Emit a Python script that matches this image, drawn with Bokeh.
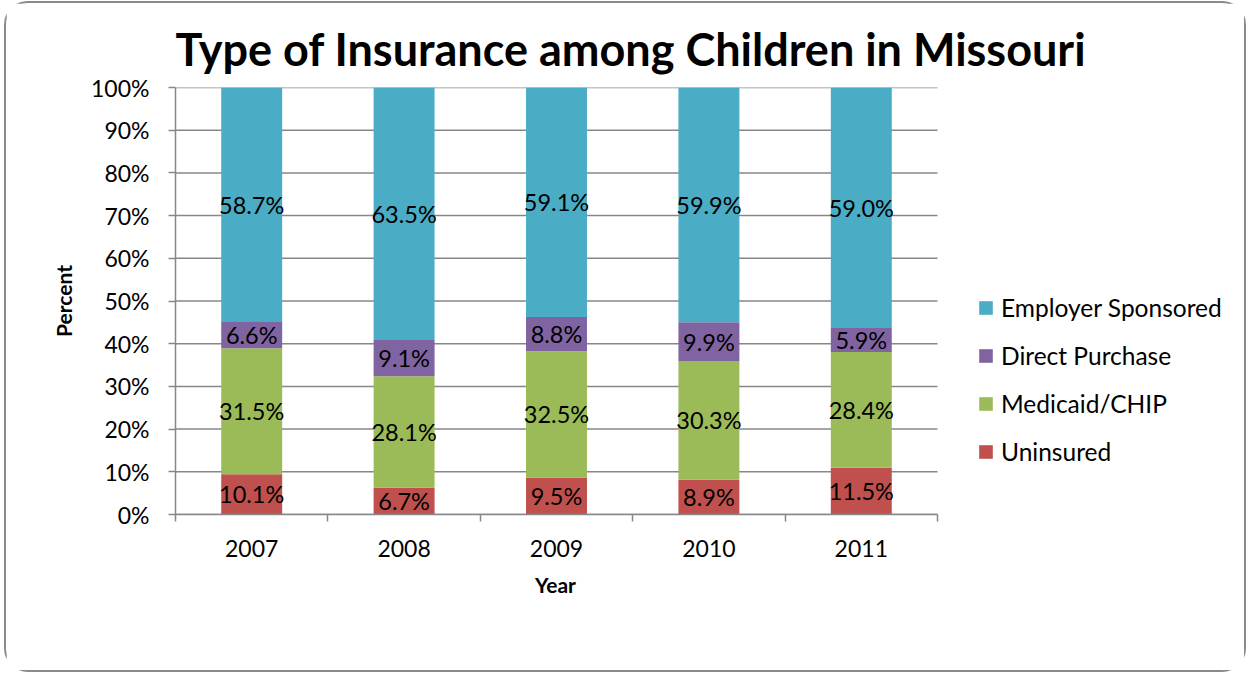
from bokeh.plotting import figure
from bokeh.models import (ColumnDataSource, FixedTicker, Legend, LegendItem,
                          LabelSet, PrintfTickFormatter, Range1d, Title)
from bokeh.core.properties import value
from bokeh.embed import file_html
from bokeh.resources import INLINE

# ---- data ----
years = ["2007", "2008", "2009", "2010", "2011"]
uninsured = [10.1, 6.7, 9.5, 8.9, 11.5]
medicaid = [31.5, 28.1, 32.5, 30.3, 28.4]
direct = [6.6, 9.1, 8.8, 9.9, 5.9]
employer = [58.7, 63.5, 59.1, 59.9, 59.0]
series_names = ["Uninsured", "Medicaid/CHIP", "Direct Purchase", "Employer Sponsored"]
series_colors = ["#C0504D", "#9BBB59", "#8064A2", "#4BACC6"]
y_ticks = list(range(0, 101, 10))
title_text = "Type of Insurance among Children in Missouri"
x_title = "Year"
y_title = "Percent"

FONT = "Lato"
GRAY = "#878787"

# layout (pixels): the frame is widened so the legend can sit inside it;
# the bar area itself is PLOT_W wide.
W, H = 1242, 671
LEFT, TOP, BOTTOM = 169, 84, 160
FRAME_W = 1070
PLOT_W = 762
n = len(years)
x_end = n * FRAME_W / PLOT_W

series = [uninsured, medicaid, direct, employer]
xs = [i + 0.5 for i in range(n)]
totals = [sum(s[i] for s in series) for i in range(n)]
shares = [[s[i] / totals[i] * 100 for i in range(n)] for s in series]

keys = ["s%d" % k for k in range(len(series))]
data = {"x": xs}
for k, sh in zip(keys, shares):
    data[k] = sh
src = ColumnDataSource(data)

# label positions (segment centres, 100% stacked)
lx, ly, lt = [], [], []
for i in range(n):
    base = 0.0
    for k, s in enumerate(series):
        h = shares[k][i]
        lx.append(xs[i])
        ly.append(base + h / 2)
        lt.append("%.1f%%" % s[i])
        base += h
lab_src = ColumnDataSource(dict(x=lx, y=ly, t=lt))

p = figure(width=W, height=H, x_range=Range1d(0, x_end), y_range=Range1d(0, 100),
           output_backend="svg", toolbar_location=None,
           min_border_left=LEFT, min_border_right=W - LEFT - FRAME_W,
           min_border_top=TOP, min_border_bottom=BOTTOM)
p.styles = {"border": "2px solid #8a8a8a", "border-radius": "24px",
            "margin-left": "4px", "margin-top": "1px"}
p.outline_line_color = None
p.background_fill_color = "white"
p.border_fill_color = "white"

# title
p.title.text = title_text
p.title.align = "left"
p.title.offset = 0
p.title.standoff = 23
p.title.text_font = FONT
p.title.text_font_style = "bold"
p.title.text_font_size = "45px"
p.title.text_color = "black"

# horizontal gridlines limited to the bar area
p.xgrid.grid_line_color = None
p.ygrid.grid_line_color = None
grid_src = ColumnDataSource(dict(x0=[0] * len(y_ticks), x1=[n] * len(y_ticks), y=y_ticks))
p.segment(x0="x0", x1="x1", y0="y", y1="y", source=grid_src, line_color=GRAY,
          line_width=1.5, level="underlay")

rs = p.vbar_stack(keys, x="x", width=0.4, color=series_colors, line_color=None, source=src)

labels = LabelSet(x="x", y="y", text="t", source=lab_src, text_align="center",
                  text_baseline="middle", text_font=value(FONT), text_font_size="23.5px",
                  text_color="black")
p.add_layout(labels)

# y axis
ya = p.yaxis[0]
ya.ticker = FixedTicker(ticks=y_ticks)
ya.formatter = PrintfTickFormatter(format="%d%%")
ya.axis_line_color = GRAY
ya.axis_line_width = 1.5
ya.major_tick_line_color = GRAY
ya.major_tick_line_width = 1.5
ya.major_tick_out = 7
ya.major_tick_in = 0
ya.minor_tick_line_color = None
ya.major_label_text_font = FONT
ya.major_label_text_font_size = "23px"
ya.major_label_text_color = "black"
ya.major_label_standoff = 19
ya.axis_label = y_title
ya.axis_label_text_font = FONT
ya.axis_label_text_font_style = "bold"
ya.axis_label_text_font_size = "21px"
ya.axis_label_text_color = "black"
ya.axis_label_standoff = 12

# x axis
xa = p.xaxis[0]
xa.bounds = (0, n)
xa.ticker = FixedTicker(ticks=xs, minor_ticks=list(range(n + 1)))
xa.major_label_overrides = {x: y for x, y in zip(xs, years)}
xa.axis_line_color = GRAY
xa.axis_line_width = 1.5
xa.major_tick_line_color = None
xa.major_tick_out = 0
xa.major_tick_in = 0
xa.minor_tick_line_color = GRAY
xa.minor_tick_line_width = 1.5
xa.minor_tick_out = 7
xa.minor_tick_in = 0
xa.major_label_text_font = FONT
xa.major_label_text_font_size = "23px"
xa.major_label_text_color = "black"
xa.major_label_standoff = 18

# x-axis title, centred under the bar area (not under the widened frame)
XT_W = 43  # approx text width of the x title in px
xt = Title(text=x_title, align="left", offset=PLOT_W / 2 - XT_W / 2, standoff=20,
           text_font=FONT, text_font_style="bold", text_font_size="21px",
           text_color="black")
p.add_layout(xt, "below")

# legend (inside the widened frame, right of the bars)
items = [LegendItem(label=nm, renderers=[r]) for nm, r in zip(series_names, rs)][::-1]
leg = Legend(items=items, location=(802, 48), orientation="vertical",
             glyph_width=17, glyph_height=17, label_standoff=7, spacing=18,
             label_height=30, padding=0, margin=0, border_line_color=None,
             background_fill_alpha=0, label_text_font=FONT, label_text_font_size="24.5px",
             label_text_color="black")
p.add_layout(leg)

open("out.html", "w").write(file_html(p, INLINE))
